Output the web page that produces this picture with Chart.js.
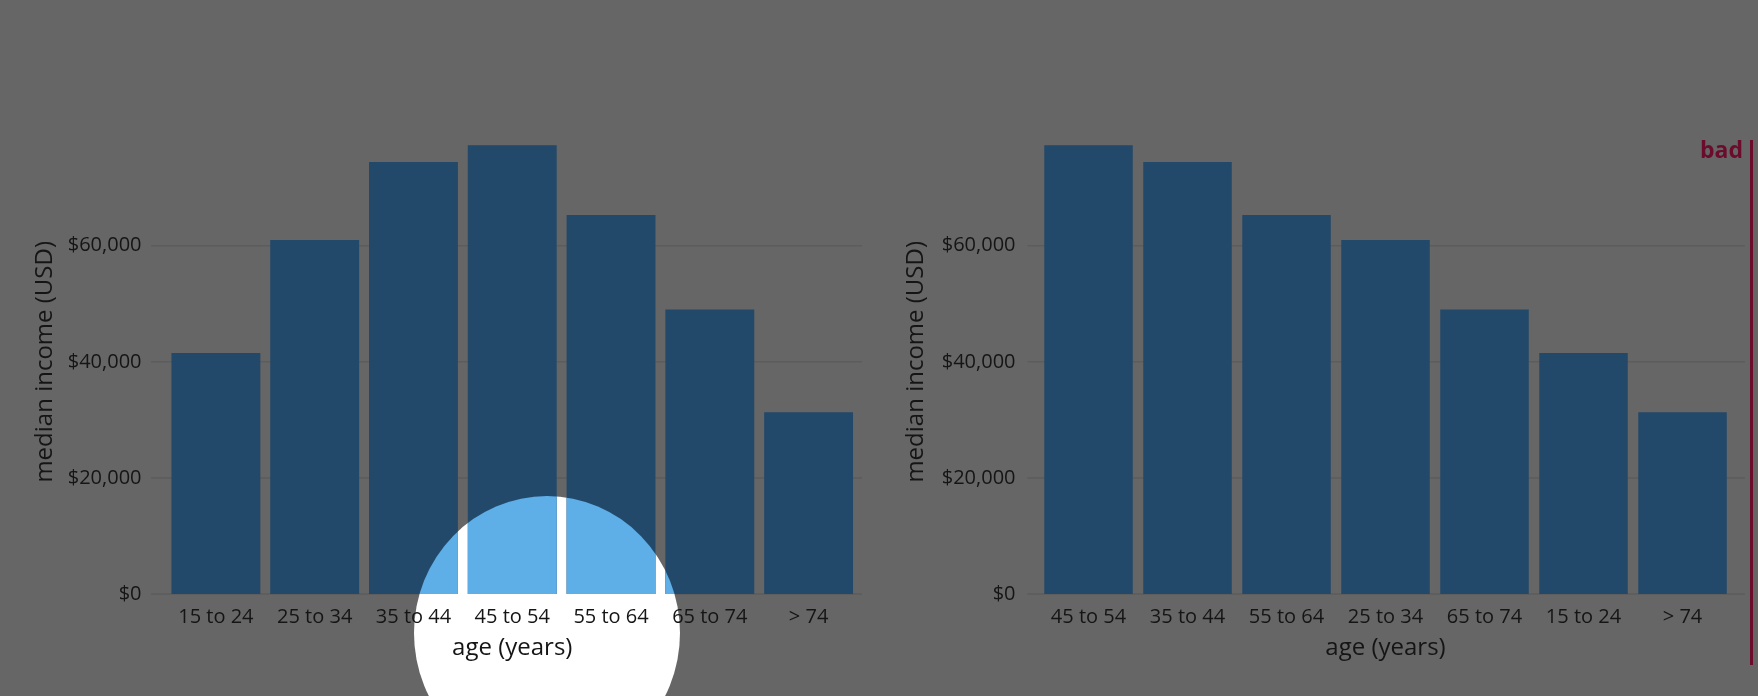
<!DOCTYPE html>
<html>
<head>
<meta charset="utf-8">
<script src="https://cdn.jsdelivr.net/npm/chart.js@4.4.0/dist/chart.umd.min.js"></script>
<style>
  html, body { margin: 0; padding: 0; background: #666666; }
  body { width: 1758px; height: 696px; position: relative; overflow: hidden; }
  .panel { position: absolute; top: 0; height: 696px; }
  #leftPanel { left: 0; width: 879px; }
  #rightPanel { left: 880px; width: 878px; }
  .bad-line { position: absolute; left: 1750px; top: 140px; width: 3px; height: 525px; background: #6b0c2c; }
  .bad-label { position: absolute; right: 15px; top: 138px; font: bold 23px/1 'Open Sans', sans-serif; color: #6b0c2c; }
</style>
</head>
<body>
<div class="panel" id="leftPanel"><canvas id="leftChart"></canvas></div>
<div class="panel" id="rightPanel"><canvas id="rightChart"></canvas></div>
<div class="bad-line"></div>
<div class="bad-label">bad</div>
<script>
// categories, in age order and sorted by income
const ageGroups = ['15 to 24', '25 to 34', '35 to 44', '45 to 54', '55 to 64', '65 to 74', '> 74'];
const incomeByAge = [41500, 61000, 74400, 77300, 65300, 49000, 31300];

const groupsByIncome = ['45 to 54', '35 to 44', '55 to 64', '25 to 34', '65 to 74', '15 to 24', '> 74'];
const incomeSorted = [77300, 74400, 65300, 61000, 49000, 41500, 31300];

const yTicks = [0, 20000, 40000, 60000];
const yMax = 80000;

const barColor = '#23496a';
const spotBarColor = '#5eaee8';
const textColor = '#151515';
const gridColor = '#5c5c5c';
const fontFamily = "'Open Sans', sans-serif";

// horizontal grid lines that run a bit past the bars, plus the spotlight circle
const gridLines = {
    id: 'gridLines',
    beforeDraw(chart, args, opts) {
        const {ctx, chartArea} = chart;
        const yScale = chart.scales.y;
        ctx.save();
        ctx.strokeStyle = gridColor;
        ctx.lineWidth = 1.5;
        yScale.ticks.forEach(t => {
            const py = yScale.getPixelForValue(t.value);
            ctx.beginPath();
            ctx.moveTo(chartArea.left - opts.extendLeft, py);
            ctx.lineTo(chartArea.right + opts.extendRight, py);
            ctx.stroke();
        });
        if (opts.spotlight) {
            const s = opts.spotlight;
            ctx.fillStyle = '#ffffff';
            ctx.beginPath();
            ctx.ellipse(s.x, s.y, s.rx, s.ry, 0, 0, Math.PI * 2);
            ctx.fill();
        }
        ctx.restore();
    },
    afterDatasetsDraw(chart, args, opts) {
        if (!opts.spotlight) return;
        const s = opts.spotlight;
        const ctx = chart.ctx;
        ctx.save();
        ctx.beginPath();
        ctx.ellipse(s.x, s.y, s.rx, s.ry, 0, 0, Math.PI * 2);
        ctx.clip();
        ctx.fillStyle = spotBarColor;
        chart.getDatasetMeta(0).data.forEach(bar => {
            const {x, y, base, width} = bar.getProps(['x', 'y', 'base', 'width'], true);
            ctx.fillRect(x - width / 2, y, width, base - y);
        });
        ctx.restore();
    }
};

function makeChart(id, labels, values, opts) {
    return new Chart(document.getElementById(id), {
        type: 'bar',
        data: {
            labels: labels,
            datasets: [{
                data: values,
                backgroundColor: barColor,
                borderWidth: 0,
                barPercentage: opts.barPct,
                categoryPercentage: 1
            }]
        },
        options: {
            responsive: true,
            maintainAspectRatio: false,
            animation: false,
            layout: { padding: { left: 0, right: opts.padRight, top: 129.6, bottom: 0 } },
            plugins: {
                legend: { display: false },
                tooltip: { enabled: false },
                gridLines: {
                    extendLeft: opts.extendLeft,
                    extendRight: opts.extendRight,
                    spotlight: opts.spotlight
                }
            },
            scales: {
                x: {
                    grid: { display: false, drawTicks: false, tickLength: 0 },
                    border: { display: false },
                    ticks: {
                        color: textColor,
                        font: { family: fontFamily, size: 20 },
                        padding: 11,
                        maxRotation: 0,
                        autoSkip: false
                    },
                    title: {
                        display: true,
                        text: 'age (years)',
                        color: textColor,
                        font: { family: fontFamily, size: 24 },
                        padding: { top: 0, bottom: 33.6 }
                    },
                    afterFit(scale) { scale.height = 102; }
                },
                y: {
                    min: 0,
                    max: yMax,
                    grid: { display: false, drawTicks: false, tickLength: 0 },
                    border: { display: false },
                    afterBuildTicks(scale) {
                        scale.ticks = yTicks.map(v => ({ value: v }));
                    },
                    ticks: {
                        color: textColor,
                        font: { family: fontFamily, size: 20 },
                        padding: opts.yTickPad,
                        callback: v => '$' + v.toLocaleString('en-US')
                    },
                    title: {
                        display: true,
                        text: 'median income (USD)',
                        color: textColor,
                        font: { family: fontFamily, size: 24 },
                        padding: { top: opts.yTitlePad, bottom: 0 }
                    },
                    afterFit(scale) { scale.width = opts.yWidth; }
                }
            }
        },
        plugins: [gridLines]
    });
}

makeChart('leftChart', ageGroups, incomeByAge, {
    barPct: 0.9,
    padRight: 21,
    yWidth: 166.5,
    yTickPad: 25,
    yTitlePad: 30.6,
    extendLeft: 15.5,
    extendRight: 4,
    spotlight: { x: 547, y: 633, rx: 133, ry: 137 }
});

makeChart('rightChart', groupsByIncome, incomeSorted, {
    barPct: 0.894,
    padRight: 26,
    yWidth: 159,
    yTickPad: 23.5,
    yTitlePad: 21.6,
    extendLeft: 11.5,
    extendRight: 13,
    spotlight: null
});
</script>
</body>
</html>
